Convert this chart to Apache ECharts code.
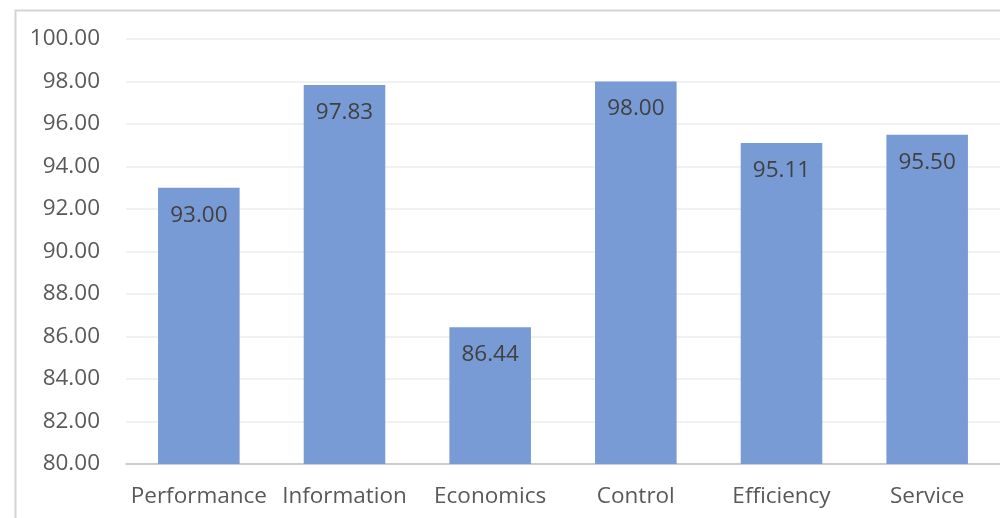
<!DOCTYPE html>
<html><head><meta charset="utf-8">
<script src="https://cdn.jsdelivr.net/npm/echarts@6/dist/echarts.min.js"></script>
<style>html,body{margin:0;padding:0;background:#fff}#c{width:1000px;height:518px}</style>
</head><body><div id="c"></div>
<script>
const categories = ['Performance','Information','Economics','Control','Efficiency','Service'];
const values = [93.00, 97.83, 86.44, 98.00, 95.11, 95.50];
const yMin = 80, yMax = 100, yStep = 2;

const chart = echarts.init(document.getElementById('c'));
chart.setOption({
  animation:false,
  graphic:[{type:'rect',left:13,top:8,shape:{x:0,y:0,width:1100,height:600},style:{fill:'none',stroke:'#d4d4d4',lineWidth:2},z:-1}],
  grid:{left:126,right:0,top:39,bottom:54},
  xAxis:{type:'category',data:categories,
    axisLine:{lineStyle:{color:'#bfbfbf',width:1.5}},axisTick:{show:false},
    axisLabel:{color:'#595959',fontSize:22.5,fontFamily:'Open Sans',margin:21,interval:0}},
  yAxis:{type:'value',min:yMin,max:yMax,interval:yStep,
    axisLine:{show:false},axisTick:{show:false},
    splitLine:{lineStyle:{color:'#ededed',width:1.5}},
    axisLabel:{color:'#595959',fontSize:22.5,fontFamily:'Open Sans',margin:26,formatter:v=>v.toFixed(2)}},
  series:[{type:'bar',data:values,barWidth:'56%',
    itemStyle:{color:'#789bd6'},
    label:{show:true,position:'insideTop',distance:16,color:'#404040',fontSize:22.5,fontFamily:'Open Sans',formatter:p=>p.value.toFixed(2)}}]
});
</script></body></html>
